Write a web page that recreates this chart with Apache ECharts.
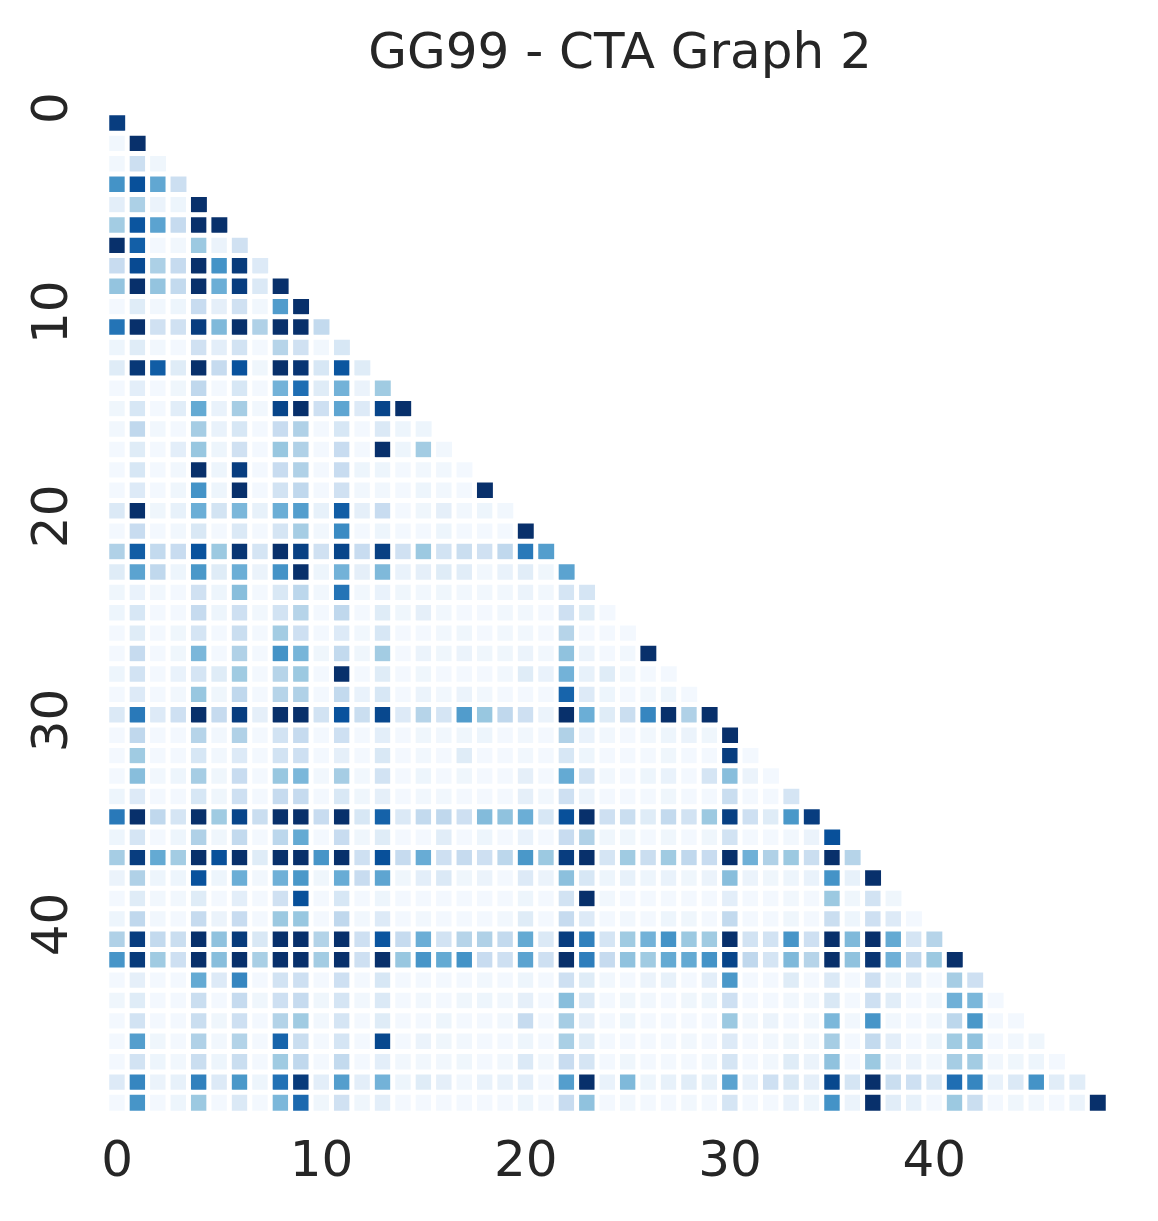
<!DOCTYPE html>
<html lang="en">
  <head>
    <meta charset="UTF-8" />
    <title>GG99 - CTA Graph 2</title>
    <script src="https://cdn.jsdelivr.net/npm/echarts@6/dist/echarts.min.js"></script>
    <style>
      html, body { margin: 0; padding: 0; background: #fff; }
    </style>
  </head>
  <body>
    <div id="main" style="width: 1158px; height: 1221px"></div>

    <script>
      const myChart = echarts.init(document.getElementById("main"));

      // 0..48 row / column labels
      const idx = [];
      for (let i = 0; i < 49; i++) idx.push(String(i));

      // lower triangle, row r holds columns 0..r (values 0-100)
      const rows = [
        [95],
        [3, 100],
        [3, 22, 4],
        [62, 88, 53, 22],
        [10, 33, 6, 5, 100],
        [36, 86, 55, 25, 100, 100],
        [100, 82, 2, 3, 38, 6, 20],
        [24, 90, 33, 25, 100, 62, 96, 13],
        [40, 100, 40, 26, 100, 50, 95, 14, 100],
        [2, 12, 3, 5, 24, 9, 20, 3, 58, 100],
        [74, 100, 20, 20, 95, 45, 100, 32, 100, 100, 26],
        [5, 12, 3, 2, 20, 10, 19, 2, 30, 20, 3, 16],
        [12, 97, 83, 12, 100, 25, 87, 4, 100, 98, 16, 86, 12],
        [2, 10, 2, 4, 27, 2, 16, 2, 48, 76, 12, 48, 6, 37],
        [4, 16, 2, 11, 52, 7, 35, 3, 92, 100, 21, 54, 13, 92, 100],
        [3, 27, 3, 2, 35, 7, 16, 2, 24, 32, 2, 16, 2, 14, 5, 5],
        [2, 12, 2, 10, 39, 5, 20, 2, 39, 32, 2, 24, 2, 100, 5, 36, 3],
        [2, 16, 2, 3, 100, 5, 95, 2, 24, 32, 2, 24, 5, 5, 2, 3, 3, 2],
        [2, 13, 2, 4, 62, 5, 100, 2, 19, 27, 2, 20, 3, 3, 2, 5, 3, 2, 100],
        [14, 100, 4, 8, 50, 18, 46, 8, 50, 57, 8, 83, 9, 24, 2, 4, 9, 3, 5, 3],
        [2, 24, 2, 3, 15, 2, 14, 2, 17, 35, 3, 65, 2, 5, 2, 2, 5, 2, 2, 2, 100],
        [32, 83, 26, 24, 87, 38, 98, 17, 100, 94, 20, 92, 24, 94, 20, 38, 19, 23, 20, 27, 72, 57],
        [12, 55, 27, 5, 60, 12, 50, 6, 62, 100, 5, 48, 9, 45, 7, 9, 12, 11, 3, 7, 11, 4, 55],
        [4, 7, 3, 2, 20, 5, 43, 2, 15, 28, 3, 74, 3, 7, 4, 3, 4, 3, 3, 3, 6, 3, 17, 17],
        [5, 16, 2, 2, 25, 5, 21, 3, 19, 30, 2, 27, 2, 12, 4, 9, 3, 2, 2, 3, 3, 2, 21, 12, 2],
        [2, 12, 2, 4, 17, 2, 23, 2, 36, 21, 2, 13, 3, 16, 2, 2, 3, 4, 2, 3, 3, 2, 30, 2, 2, 2],
        [2, 25, 2, 4, 46, 2, 32, 2, 62, 47, 4, 26, 4, 36, 2, 6, 4, 6, 4, 4, 6, 3, 41, 6, 2, 3, 100],
        [5, 19, 2, 7, 17, 12, 37, 2, 30, 38, 2, 100, 2, 12, 2, 4, 2, 2, 2, 3, 12, 7, 48, 8, 12, 3, 2, 2],
        [2, 13, 2, 3, 39, 4, 27, 2, 30, 32, 2, 26, 7, 16, 2, 6, 3, 6, 3, 2, 2, 2, 80, 13, 5, 2, 3, 5, 2],
        [14, 72, 13, 21, 100, 25, 95, 9, 100, 100, 19, 87, 23, 91, 13, 30, 17, 58, 39, 27, 21, 6, 100, 50, 12, 23, 67, 100, 32, 100],
        [2, 27, 2, 2, 30, 3, 32, 2, 19, 25, 2, 21, 2, 10, 2, 4, 3, 4, 5, 2, 3, 2, 32, 7, 3, 2, 3, 5, 6, 4, 100],
        [2, 37, 2, 2, 16, 3, 13, 2, 19, 21, 2, 9, 2, 15, 2, 3, 2, 12, 2, 2, 3, 2, 16, 5, 2, 2, 2, 4, 2, 2, 95, 2],
        [2, 43, 3, 5, 35, 4, 24, 2, 39, 46, 3, 35, 3, 19, 2, 5, 2, 4, 2, 2, 9, 2, 52, 19, 3, 2, 5, 7, 2, 17, 43, 6, 2],
        [5, 13, 2, 2, 16, 4, 21, 2, 25, 25, 2, 15, 4, 9, 2, 3, 3, 2, 2, 2, 9, 3, 21, 6, 2, 2, 2, 4, 2, 2, 23, 2, 2, 17],
        [72, 100, 27, 17, 100, 37, 92, 23, 100, 100, 24, 100, 16, 81, 14, 26, 27, 21, 44, 41, 50, 16, 88, 100, 21, 23, 12, 26, 19, 38, 94, 21, 12, 60, 95],
        [5, 17, 2, 5, 32, 4, 26, 2, 28, 52, 2, 24, 4, 12, 2, 2, 11, 2, 5, 2, 7, 2, 24, 32, 4, 4, 2, 4, 2, 4, 19, 2, 2, 3, 6, 88],
        [35, 95, 52, 36, 100, 88, 100, 12, 100, 100, 61, 100, 21, 88, 25, 51, 21, 25, 21, 28, 60, 38, 95, 100, 17, 37, 23, 37, 27, 24, 100, 49, 32, 38, 23, 100, 30],
        [6, 32, 5, 5, 87, 5, 50, 3, 49, 60, 4, 51, 24, 54, 4, 10, 14, 4, 6, 2, 13, 6, 42, 16, 5, 8, 5, 7, 4, 6, 43, 6, 4, 5, 7, 62, 8, 100],
        [2, 12, 3, 3, 12, 2, 10, 2, 20, 88, 2, 16, 2, 5, 2, 2, 2, 2, 2, 2, 5, 2, 19, 100, 3, 2, 2, 2, 2, 2, 10, 2, 2, 3, 2, 38, 4, 19, 4],
        [5, 27, 3, 2, 25, 6, 24, 2, 38, 39, 2, 27, 3, 13, 2, 3, 2, 2, 2, 3, 12, 2, 25, 13, 2, 3, 2, 5, 4, 2, 26, 2, 2, 4, 2, 23, 5, 21, 13, 2],
        [32, 95, 26, 23, 100, 41, 96, 15, 100, 100, 31, 100, 21, 86, 25, 50, 19, 30, 32, 26, 52, 14, 95, 69, 17, 37, 48, 62, 38, 37, 100, 19, 19, 61, 21, 100, 45, 100, 52, 17, 30],
        [61, 96, 37, 21, 100, 43, 100, 34, 100, 100, 36, 100, 21, 100, 39, 61, 52, 62, 24, 21, 55, 21, 100, 70, 25, 41, 37, 52, 52, 62, 92, 27, 17, 45, 30, 100, 41, 98, 49, 27, 38, 100],
        [2, 9, 2, 2, 52, 13, 67, 2, 19, 21, 2, 21, 2, 16, 2, 2, 2, 2, 3, 2, 5, 2, 21, 12, 3, 2, 6, 8, 2, 10, 60, 2, 2, 12, 2, 14, 2, 21, 5, 10, 2, 35, 21],
        [4, 12, 2, 2, 23, 2, 25, 4, 21, 25, 4, 17, 3, 14, 2, 3, 2, 4, 5, 3, 9, 2, 43, 14, 2, 4, 3, 2, 4, 5, 21, 2, 2, 3, 3, 15, 2, 21, 11, 2, 3, 49, 46, 2],
        [2, 19, 2, 2, 23, 4, 21, 2, 31, 37, 3, 17, 2, 12, 2, 2, 5, 2, 2, 3, 25, 2, 35, 9, 2, 5, 2, 2, 2, 2, 38, 3, 6, 2, 3, 46, 3, 61, 3, 2, 3, 28, 60, 2, 2],
        [2, 57, 4, 2, 32, 3, 31, 2, 80, 23, 2, 17, 2, 91, 2, 6, 4, 3, 2, 2, 5, 2, 34, 12, 2, 2, 2, 2, 3, 2, 13, 2, 3, 4, 3, 35, 2, 26, 10, 2, 5, 37, 41, 2, 3, 4],
        [2, 19, 5, 3, 23, 5, 23, 2, 37, 27, 2, 26, 2, 10, 3, 3, 3, 4, 2, 3, 14, 3, 24, 17, 2, 4, 2, 2, 2, 3, 17, 2, 3, 12, 6, 41, 2, 38, 6, 6, 3, 35, 36, 3, 4, 5, 2],
        [13, 67, 6, 8, 69, 13, 60, 5, 75, 96, 10, 57, 10, 48, 5, 12, 9, 3, 7, 7, 10, 2, 57, 100, 7, 45, 5, 8, 11, 8, 55, 7, 21, 15, 9, 91, 17, 100, 23, 21, 14, 76, 67, 7, 14, 62, 11, 11],
        [2, 61, 2, 5, 38, 2, 14, 2, 46, 78, 4, 20, 4, 10, 2, 2, 2, 2, 2, 2, 5, 2, 24, 41, 2, 3, 2, 2, 3, 2, 17, 2, 2, 7, 5, 62, 6, 100, 11, 8, 2, 38, 23, 2, 4, 3, 2, 6, 100],
      ];

      // matplotlib "Blues"
      const blues = ["#f7fbff", "#deebf7", "#c6dbef", "#9ecae1", "#6baed6", "#4292c6", "#2171b5", "#08519c", "#08306b"];

      const data = [];
      rows.forEach((row, r) => {
        row.forEach((v, c) => data.push([c, r, v]));
      });

      const labelStyle = {
        fontFamily: "DejaVu Sans",
        fontSize: 50,
        color: "#262626",
      };

      const options = {
        animation: false,
        title: {
          text: "GG99 - CTA Graph 2",
          left: 615,
          top: 25,
          textAlign: "center",
          textStyle: { fontFamily: "DejaVu Sans", fontSize: 50, fontWeight: "normal", color: "#262626" },
        },
        grid: { left: 107, top: 113, width: 1001, height: 1000 },
        xAxis: {
          type: "category",
          data: idx,
          axisLine: { show: false },
          axisTick: { show: false },
          splitLine: { show: false },
          axisLabel: Object.assign({ interval: (i) => i % 10 === 0, margin: 25 }, labelStyle),
        },
        yAxis: {
          type: "category",
          data: idx,
          inverse: true,
          axisLine: { show: false },
          axisTick: { show: false },
          splitLine: { show: false },
          axisLabel: Object.assign(
            { interval: (i) => i % 10 === 0, rotate: 90, margin: 28, padding: [0, 0, 0, 30] },
            labelStyle
          ),
        },
        visualMap: {
          show: false,
          min: 0,
          max: 100,
          inRange: { color: blues },
        },
        series: [
          {
            type: "heatmap",
            data: data,
            itemStyle: { borderColor: "#ffffff", borderWidth: 5 },
            emphasis: { disabled: true },
          },
        ],
      };

      myChart.setOption(options);
    </script>
  </body>
</html>
